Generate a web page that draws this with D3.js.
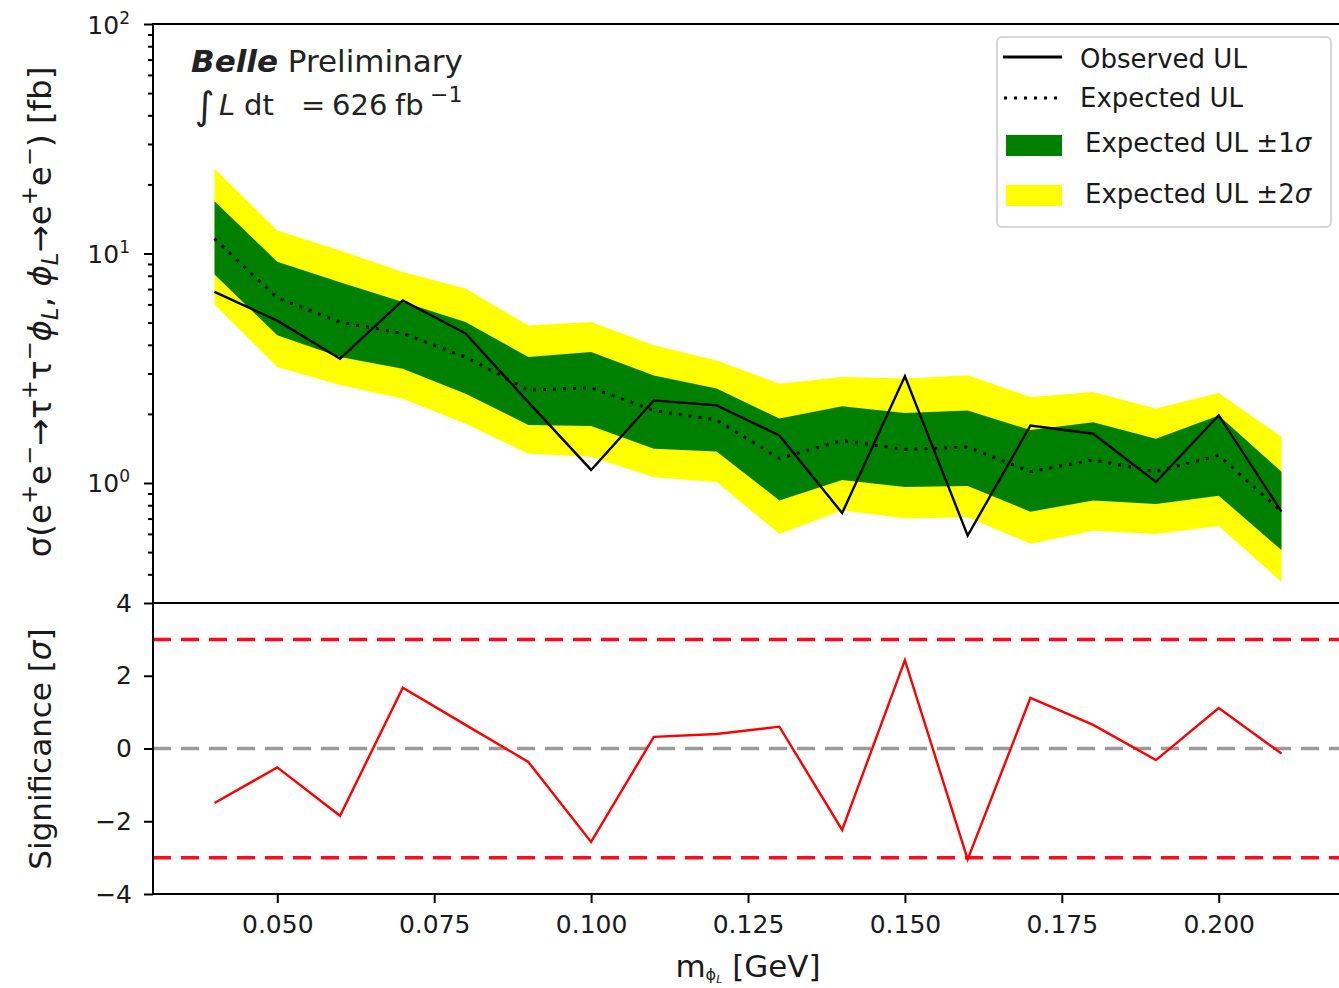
<!DOCTYPE html>
<html>
<head>
<meta charset="utf-8">
<script src="https://cdn.jsdelivr.net/npm/d3@7"></script>
<style>
    body { margin: 0; background: #fff; }
    svg { display: block; font-family: "DejaVu Sans", sans-serif; }
</style>
</head>
<body>
<div id="chart"></div>
<script>
"use strict";

// mass points [GeV]
const mass = [0.04, 0.05, 0.06, 0.07, 0.08, 0.09, 0.10, 0.11, 0.12, 0.13,
              0.14, 0.15, 0.16, 0.17, 0.18, 0.19, 0.20, 0.21];
// upper limits [fb]
const observedUL = [6.8, 5.1, 3.48, 6.25, 4.48, 2.25, 1.14, 2.29, 2.18, 1.61,
                    0.74, 2.92, 0.59, 1.78, 1.64, 1.01, 1.97, 0.75];
const expectedUL = [11.6, 6.4, 5.03, 4.48, 3.54, 2.54, 2.60, 2.07, 1.88, 1.28,
                    1.53, 1.40, 1.435, 1.12, 1.26, 1.12, 1.32, 0.75];
const oneSigmaUp = [16.9, 9.2, 7.5, 6.15, 5.03, 3.54, 3.72, 2.94, 2.58, 1.91,
                    2.16, 2.02, 2.07, 1.70, 1.84, 1.56, 1.97, 1.12];
const oneSigmaDown = [8.1, 4.4, 3.54, 3.15, 2.45, 1.79, 1.77, 1.41, 1.37, 0.84,
                      1.03, 0.96, 0.97, 0.75, 0.84, 0.81, 0.88, 0.51];
const twoSigmaUp = [23.4, 12.6, 10.3, 8.3, 7.03, 4.86, 5.03, 3.98, 3.42, 2.71,
                    2.90, 2.85, 2.95, 2.37, 2.49, 2.11, 2.47, 1.59];
const twoSigmaDown = [6.0, 3.2, 2.67, 2.33, 1.81, 1.34, 1.30, 1.06, 1.01, 0.60,
                      0.76, 0.70, 0.71, 0.544, 0.62, 0.60, 0.65, 0.37];
// local significance [sigma]
const significance = [-1.5, -0.52, -1.85, 1.67, 0.65, -0.37, -2.57, 0.32, 0.4, 0.6,
                      -2.24, 2.43, -3.05, 1.39, 0.65, -0.32, 1.11, -0.14];

// axes
const xTicks = [0.050, 0.075, 0.100, 0.125, 0.150, 0.175, 0.200];
const logMajorTicks = [1, 10, 100];
const logMajorExps = ["0", "1", "2"];
const logMinorTicks = [0.4, 0.5, 0.6, 0.7, 0.8, 0.9, 2, 3, 4, 5, 6, 7, 8, 9,
                       20, 30, 40, 50, 60, 70, 80, 90];
const sigTicks = [-4, -2, 0, 2, 4];
const sigLevels = [3, -3];

const legendLabels = ["Observed UL", "Expected UL", "Expected UL \u00b11", "Expected UL \u00b12"];

(function() {
    const size = { width: 1339, height: 988 };
    const box = { left: 153, right: 1343, top: 24, mid: 603, bottom: 894 };
    const ink = "#1a1a1a";

    const svg = d3.select("#chart").append("svg")
        .attr("width", size.width)
        .attr("height", size.height);

    const x = d3.scaleLinear().domain([0.0302, 0.2198]).range([box.left, box.right]);
    const yUL = d3.scaleLog().domain([0.3, 100]).range([box.mid, box.top]);
    const ySig = d3.scaleLinear().domain([-4, 4]).range([box.bottom, box.mid]);

    const defs = svg.append("defs");
    defs.append("clipPath").attr("id", "clipTop").append("rect")
        .attr("x", box.left).attr("y", box.top)
        .attr("width", box.right - box.left).attr("height", box.mid - box.top);
    defs.append("clipPath").attr("id", "clipBot").append("rect")
        .attr("x", box.left).attr("y", box.mid)
        .attr("width", box.right - box.left).attr("height", box.bottom - box.mid);

    const idx = d3.range(mass.length);

    /* --- top panel --- */
    const top = svg.append("g").attr("clip-path", "url(#clipTop)");

    const band = (lo, hi) => d3.area()
        .x(i => x(mass[i]))
        .y0(i => yUL(lo[i]))
        .y1(i => yUL(hi[i]));

    top.append("path").datum(idx)
        .attr("d", band(twoSigmaDown, twoSigmaUp))
        .attr("fill", "#ffff00");
    top.append("path").datum(idx)
        .attr("d", band(oneSigmaDown, oneSigmaUp))
        .attr("fill", "#008000");

    const ulLine = (vals) => d3.line().x(i => x(mass[i])).y(i => yUL(vals[i]));

    top.append("path").datum(idx)
        .attr("d", ulLine(expectedUL))
        .attr("fill", "none")
        .attr("stroke", "#000")
        .attr("stroke-width", 3)
        .attr("stroke-dasharray", "3,7");
    top.append("path").datum(idx)
        .attr("d", ulLine(observedUL))
        .attr("fill", "none")
        .attr("stroke", "#000")
        .attr("stroke-width", 2.4);

    /* --- bottom panel --- */
    const bot = svg.append("g").attr("clip-path", "url(#clipBot)");

    bot.selectAll("line.level")
        .data(sigLevels)
        .enter()
        .append("line")
            .attr("class", "level")
            .attr("x1", box.left).attr("x2", box.right)
            .attr("y1", d => ySig(d)).attr("y2", d => ySig(d))
            .attr("stroke", "#ff0a1a")
            .attr("stroke-width", 3.5)
            .attr("stroke-dasharray", "18,10");
    bot.append("line")
        .attr("x1", box.left).attr("x2", box.right)
        .attr("y1", ySig(0)).attr("y2", ySig(0))
        .attr("stroke", "#9a9a9a")
        .attr("stroke-width", 3.5)
        .attr("stroke-dasharray", "18,10");

    bot.append("path").datum(idx)
        .attr("d", d3.line().x(i => x(mass[i])).y(i => ySig(significance[i])))
        .attr("fill", "none")
        .attr("stroke", "#ff0000")
        .attr("stroke-width", 2.4);

    /* --- axes --- */
    const xAxis = svg.append("g")
        .attr("transform", "translate(0," + box.bottom + ")")
        .call(d3.axisBottom(x).tickValues(xTicks).tickFormat(d3.format(".3f"))
            .tickSize(9).tickSizeOuter(0).tickPadding(12));
    styleAxis(xAxis, 25);

    const sigAxis = svg.append("g")
        .attr("transform", "translate(" + box.left + ",0)")
        .call(d3.axisLeft(ySig).tickValues(sigTicks).tickFormat(d3.format("d"))
            .tickSize(9).tickSizeOuter(0).tickPadding(12));
    styleAxis(sigAxis, 25);

    const logAxis = svg.append("g")
        .attr("transform", "translate(" + box.left + ",0)")
        .call(d3.axisLeft(yUL).tickValues(logMajorTicks).tickFormat("")
            .tickSize(9).tickSizeOuter(0));
    styleAxis(logAxis, 25);
    logAxis.selectAll(".tick").each(function(d, i) {
        const t = d3.select(this).select("text")
            .attr("x", -23).attr("dy", "0.36em")
            .attr("text-anchor", "end");
        t.text(null);
        t.append("tspan").text("10");
        t.append("tspan").attr("dy", -10).style("font-size", "17px").text(logMajorExps[i]);
    });

    const logMinor = svg.append("g")
        .attr("transform", "translate(" + box.left + ",0)")
        .call(d3.axisLeft(yUL).tickValues(logMinorTicks).tickFormat("")
            .tickSize(5).tickSizeOuter(0));
    styleAxis(logMinor, 25);

    // panel frames
    [[box.top, box.mid], [box.mid, box.bottom]].forEach(p => {
        svg.append("rect")
            .attr("x", box.left).attr("y", p[0])
            .attr("width", box.right - box.left).attr("height", p[1] - p[0])
            .attr("fill", "none")
            .attr("stroke", "#000")
            .attr("stroke-width", 2);
    });

    /* --- labels --- */
    const xLabel = svg.append("text")
        .attr("x", 748).attr("y", 977)
        .attr("text-anchor", "middle")
        .style("font-size", "31px").attr("fill", ink);
    rich(xLabel, [
        { t: "m" },
        { t: "\u03d5", sub: true, shift: 3, size: 16 },
        { t: "L", sub: true, it: true, shift: 6, size: 11 },
        { t: " [GeV]" }
    ], 31);

    const ulLabel = svg.append("text")
        .attr("transform", "translate(51,312) rotate(-90)")
        .attr("text-anchor", "middle")
        .style("font-size", "32.5px").attr("fill", ink);
    rich(ulLabel, [
        { t: "\u03c3(e" }, { t: "+", sup: true }, { t: "e" }, { t: "\u2212", sup: true },
        { t: "\u2192\u03c4" }, { t: "+", sup: true }, { t: "\u03c4" }, { t: "\u2212", sup: true },
        { t: "\u03d5", it: true }, { t: "L", sub: true, it: true },
        { t: ", " }, { t: "\u03d5", it: true }, { t: "L", sub: true, it: true },
        { t: "\u2192e" }, { t: "+", sup: true }, { t: "e" }, { t: "\u2212", sup: true },
        { t: ") [fb]" }
    ], 32.5);

    const sigLabel = svg.append("text")
        .attr("transform", "translate(51,749) rotate(-90)")
        .attr("text-anchor", "middle")
        .style("font-size", "31px").attr("fill", ink);
    rich(sigLabel, [{ t: "Significance [" }, { t: "\u03c3", it: true }, { t: "]" }], 31);

    // experiment tag
    const tag = svg.append("text")
        .attr("x", 191).attr("y", 72)
        .style("font-size", "31px").attr("fill", "#222");
    tag.append("tspan").style("font-weight", "bold").style("font-style", "italic").text("Belle");
    tag.append("tspan").text(" Preliminary");

    const lumiParts = [
        { t: "\u222b", x: 195, size: 38, dy: 4 },
        { t: "L", x: 219, it: true, dy: -4 },
        { t: "dt", x: 244 },
        { t: "=", x: 301 },
        { t: "626", x: 332 },
        { t: "fb", x: 395 },
        { t: "\u22121", x: 430, size: 22, dy: -13 }
    ];
    const lumi = svg.append("text")
        .attr("y", 115)
        .style("font-size", "29px").attr("fill", "#222");
    lumiParts.forEach(p => {
        lumi.append("tspan")
            .attr("x", p.x)
            .attr("dy", p.dy || 0)
            .style("font-size", p.size ? p.size + "px" : null)
            .style("font-style", p.it ? "italic" : null)
            .text(p.t);
    });

    /* --- legend --- */
    const lg = svg.append("g");
    lg.append("rect")
        .attr("x", 997).attr("y", 37)
        .attr("width", 334).attr("height", 190)
        .attr("rx", 5)
        .attr("fill", "#fff").attr("fill-opacity", 0.8)
        .attr("stroke", "#d6d6d6").attr("stroke-width", 2);

    lg.append("line")
        .attr("x1", 1003).attr("x2", 1062).attr("y1", 57).attr("y2", 57)
        .attr("stroke", "#000").attr("stroke-width", 3.2);
    lg.append("line")
        .attr("x1", 1004).attr("x2", 1062).attr("y1", 98).attr("y2", 98)
        .attr("stroke", "#000").attr("stroke-width", 3).attr("stroke-dasharray", "3,7");
    lg.append("rect")
        .attr("x", 1006).attr("y", 135).attr("width", 56).attr("height", 21)
        .attr("fill", "#008000");
    lg.append("rect")
        .attr("x", 1006).attr("y", 185).attr("width", 56).attr("height", 21)
        .attr("fill", "#ffff00");

    const legendPos = [[1080, 68], [1080, 107], [1085, 152], [1085, 203]];
    legendLabels.forEach((label, i) => {
        const t = lg.append("text")
            .attr("x", legendPos[i][0]).attr("y", legendPos[i][1])
            .style("font-size", "26px").attr("fill", ink)
            .text(label);
        if (i >= 2) {
            t.append("tspan").style("font-style", "italic").text("\u03c3");
        }
    });

    function styleAxis(g, fontSize) {
        g.select(".domain").remove();
        g.selectAll(".tick line").attr("stroke", "#000").attr("stroke-width", 2);
        g.selectAll(".tick text")
            .style("font-size", fontSize + "px")
            .style("font-family", "DejaVu Sans, sans-serif")
            .attr("fill", ink);
    }

    function rich(sel, parts, fs) {
        let shift = 0;
        parts.forEach(p => {
            let target = 0;
            let f = fs;
            if (p.sup) { target = -0.42 * fs; f = 0.7 * fs; }
            if (p.sub) { target = p.shift !== undefined ? p.shift : 0.22 * fs; f = p.size || 0.7 * fs; }
            sel.append("tspan")
                .attr("dy", target - shift)
                .style("font-size", f + "px")
                .style("font-style", p.it ? "italic" : null)
                .text(p.t);
            shift = target;
        });
    }
})();
</script>
</body>
</html>
